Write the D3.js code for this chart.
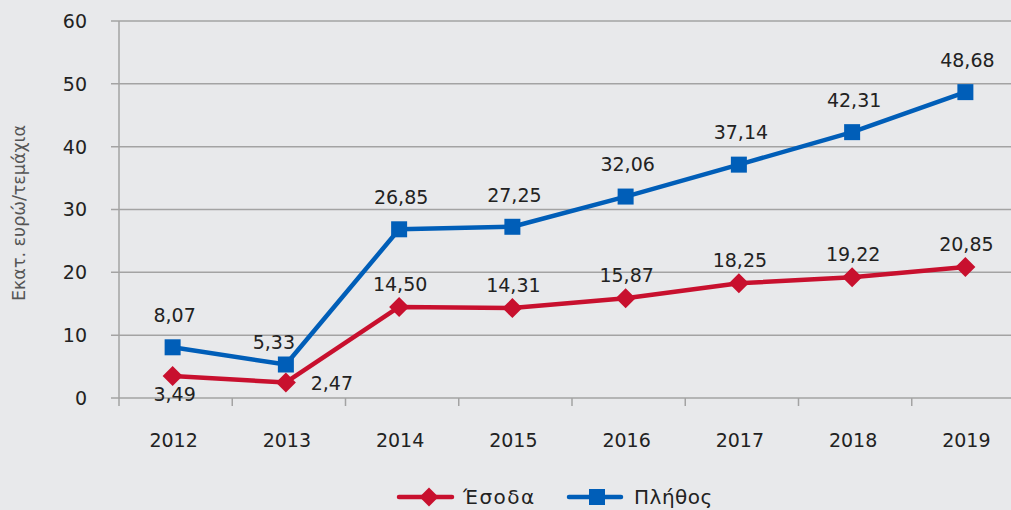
<!DOCTYPE html>
<html>
<head>
<meta charset="utf-8">
<script src="https://cdn.jsdelivr.net/npm/d3@7"></script>
<style>
  html, body { margin: 0; padding: 0; background: #e8e9eb; }
  svg { display: block; }
  text { font-family: "DejaVu Sans", Verdana, sans-serif; }
</style>
</head>
<body>
<svg id="chart" width="1011" height="510"></svg>
<script>
const years = ["2012", "2013", "2014", "2015", "2016", "2017", "2018", "2019"];
const revenue = [3.49, 2.47, 14.50, 14.31, 15.87, 18.25, 19.22, 20.85];
const volume = [8.07, 5.33, 26.85, 27.25, 32.06, 37.14, 42.31, 48.68];
const yTicks = [0, 10, 20, 30, 40, 50, 60];
const seriesNames = ["Έσοδα", "Πλήθος"];
const yTitle = "Εκατ. ευρώ/τεμάχια";

const svg = d3.select("#chart");
const plotLeft = 119, plotRight = 1025, plotTop = 21, plotBottom = 398;

const x = d3.scaleBand().domain(years).range([plotLeft, plotRight]);
const y = d3.scaleLinear().domain([0, 60]).range([plotBottom, plotTop]);
const fmt = v => v.toFixed(2).replace(".", ",");

const red = "#c8102e", blue = "#005eb8", grid = "#a3a3a3";

// horizontal gridlines
svg.append("g").selectAll("line").data(yTicks).join("line")
  .attr("x1", plotLeft - 8).attr("x2", 1011)
  .attr("y1", d => y(d)).attr("y2", d => y(d))
  .attr("stroke", grid).attr("stroke-width", 1.5);

// y axis line
svg.append("line").attr("x1", plotLeft).attr("x2", plotLeft)
  .attr("y1", plotTop).attr("y2", plotBottom + 8)
  .attr("stroke", grid).attr("stroke-width", 1.5);

// x category ticks
svg.append("g").selectAll("line").data(years.slice(1)).join("line")
  .attr("x1", d => x(d)).attr("x2", d => x(d))
  .attr("y1", plotBottom).attr("y2", plotBottom + 8)
  .attr("stroke", grid).attr("stroke-width", 1.5);

// y tick labels
svg.append("g").selectAll("text").data(yTicks).join("text")
  .attr("x", 87).attr("y", d => y(d)).attr("dy", "0.36em")
  .attr("text-anchor", "end").attr("font-size", 19).attr("fill", "#222")
  .text(d => d);

// x tick labels
svg.append("g").selectAll("text").data(years).join("text")
  .attr("x", d => x(d) + x.bandwidth() / 2 - 2).attr("y", 447)
  .attr("text-anchor", "middle").attr("font-size", 19).attr("fill", "#222")
  .text(d => d);

// y axis title
svg.append("text")
  .attr("transform", "translate(25,213) rotate(-90)")
  .attr("text-anchor", "middle").attr("font-size", 17.5).attr("fill", "#555")
  .text(yTitle);

const cx = d => x(d) + x.bandwidth() / 2 - 3;
const line = vals => d3.line().x((d, i) => cx(years[i])).y(d => y(d))(vals);

// series lines
svg.append("path").attr("d", line(revenue)).attr("fill", "none")
  .attr("stroke", red).attr("stroke-width", 4.5).attr("stroke-linejoin", "round");
svg.append("path").attr("d", line(volume)).attr("fill", "none")
  .attr("stroke", blue).attr("stroke-width", 4.5).attr("stroke-linejoin", "round");

const diamond = s => `M0,${-s}L${s},0L0,${s}L${-s},0Z`;

// markers
svg.append("g").selectAll("path").data(revenue).join("path")
  .attr("transform", (d, i) => `translate(${cx(years[i])},${y(d)})`)
  .attr("d", diamond(10)).attr("fill", red);
svg.append("g").selectAll("rect").data(volume).join("rect")
  .attr("x", (d, i) => cx(years[i]) - 8).attr("y", d => y(d) - 8)
  .attr("width", 16).attr("height", 16).attr("fill", blue);

// value labels
const redOffsets = revenue.map((d, i) => i === 0 ? [2, 18] : i === 1 ? [46, 1] : [1, -23]);
svg.append("g").selectAll("text").data(revenue).join("text")
  .attr("x", (d, i) => cx(years[i]) + redOffsets[i][0])
  .attr("y", (d, i) => y(d) + redOffsets[i][1])
  .attr("dy", "0.36em").attr("text-anchor", "middle")
  .attr("font-size", 19).attr("fill", "#222").text(fmt);
const blueOffsets = volume.map((d, i) => i === 1 ? [-12, -22] : [2, -32]);
svg.append("g").selectAll("text").data(volume).join("text")
  .attr("x", (d, i) => cx(years[i]) + blueOffsets[i][0])
  .attr("y", (d, i) => y(d) + blueOffsets[i][1])
  .attr("dy", "0.36em").attr("text-anchor", "middle")
  .attr("font-size", 19).attr("fill", "#222").text(fmt);

// legend
const lg = svg.append("g");
lg.append("line").attr("x1", 399).attr("x2", 452).attr("y1", 497).attr("y2", 497)
  .attr("stroke", red).attr("stroke-width", 4.5).attr("stroke-linecap", "round");
lg.append("path").attr("transform", "translate(429,497)").attr("d", diamond(9.5)).attr("fill", red);
lg.append("text").attr("x", 463).attr("y", 497).attr("dy", "0.36em")
  .attr("font-size", 20).attr("letter-spacing", 1.5).attr("fill", "#222").text(seriesNames[0]);
lg.append("line").attr("x1", 569).attr("x2", 621).attr("y1", 497).attr("y2", 497)
  .attr("stroke", blue).attr("stroke-width", 4.5).attr("stroke-linecap", "round");
lg.append("rect").attr("x", 589).attr("y", 489).attr("width", 16).attr("height", 16).attr("fill", blue);
lg.append("text").attr("x", 634).attr("y", 497).attr("dy", "0.36em")
  .attr("font-size", 20).attr("letter-spacing", 0.5).attr("fill", "#222").text(seriesNames[1]);
</script>
</body>
</html>
